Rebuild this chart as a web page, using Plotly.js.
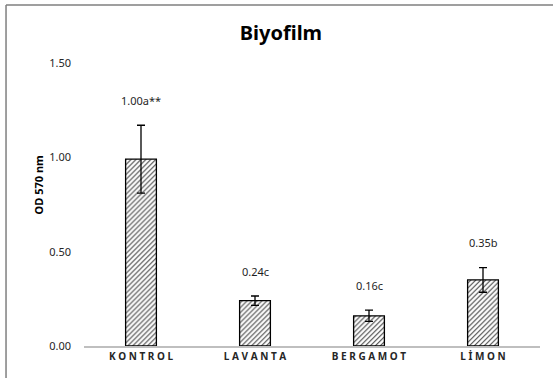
<!DOCTYPE html>
<html>
<head>
<meta charset="utf-8">
<script src="https://cdn.plot.ly/plotly-3.0.1.min.js"></script>
<style>html,body{margin:0;padding:0;background:#fff;}#chart{width:553px;height:378px;}</style>
</head>
<body>
<div id="chart"></div>
<script>
const categories = ["KONTROL", "LAVANTA", "BERGAMOT", "LİMON"];
const values = [0.99, 0.24, 0.16, 0.35];
const errors = [0.18, 0.025, 0.03, 0.065];
const valueLabels = ["1.00a**", "0.24c", "0.16c", "0.35b"];
const yTickVals = [0, 0.5, 1.0, 1.5];
const yTickText = ["0.00", "0.50", "1.00", "1.50"];

const spaced = categories.map(c => Array.from(c).join(" "));

const trace = {
  type: "bar",
  x: categories,
  y: values,
  width: 0.27,
  marker: {
    color: "#ffffff",
    line: {color: "#000000", width: 1.3},
    pattern: {shape: "/", fgcolor: "#404040", bgcolor: "#ffffff", size: 3.5, solidity: 0.3}
  },
  error_y: {type: "data", array: errors, visible: true, color: "#000000", thickness: 1.3, width: 4},
  hoverinfo: "none"
};

const annotations = categories.map((c, i) => ({
  x: c, y: values[i] + errors[i], xref: "x", yref: "y",
  text: valueLabels[i], showarrow: false, yshift: 25,
  font: {family: "Noto Sans, Open Sans, sans-serif", size: 11, color: "#1f1f1f"}
}));
annotations.push({
  xref: "paper", yref: "paper", x: -0.12, y: 0.57,
  text: "<b>OD 570 nm</b>", textangle: -90, showarrow: false,
  font: {family: "Noto Sans, Open Sans, sans-serif", size: 11, color: "#000000"}
});

const layout = {
  width: 553, height: 378,
  margin: {l: 84, r: 13, t: 63, b: 32, pad: 0},
  paper_bgcolor: "#ffffff", plot_bgcolor: "#ffffff",
  showlegend: false,
  title: {
    text: "<b>Biyofilm</b>",
    x: 0.508, xanchor: "center", y: 0.912, yanchor: "middle",
    font: {family: "Noto Sans, Open Sans, sans-serif", size: 20, color: "#000000"}
  },
  xaxis: {
    type: "category",
    tickvals: categories, ticktext: spaced,
    showgrid: false, zeroline: false,
    showline: true, linecolor: "#bfbfbf", linewidth: 1.5,
    ticks: "", ticklen: 0,
    tickfont: {family: "Noto Sans, Open Sans, sans-serif", size: 10, color: "#262626", weight: "bold"}
  },
  yaxis: {
    range: [0, 1.5],
    tickvals: yTickVals, ticktext: yTickText,
    showgrid: false, zeroline: false, showline: false,
    ticks: "", ticklabelstandoff: 12,
    tickfont: {family: "Noto Sans, Open Sans, sans-serif", size: 11, color: "#262626"}
  },
  annotations: annotations,
  shapes: [
    {type: "line", xref: "paper", yref: "paper", x0: -0.171, x1: -0.171, y0: -0.2, y1: 1.205, line: {color: "#7f7f7f", width: 1.5}},
    {type: "line", xref: "paper", yref: "paper", x0: -0.171, x1: 1.1, y0: 1.205, y1: 1.205, line: {color: "#7f7f7f", width: 1.5}}
  ]
};

Plotly.newPlot("chart", [trace], layout, {displayModeBar: false, staticPlot: true});
</script>
</body>
</html>
